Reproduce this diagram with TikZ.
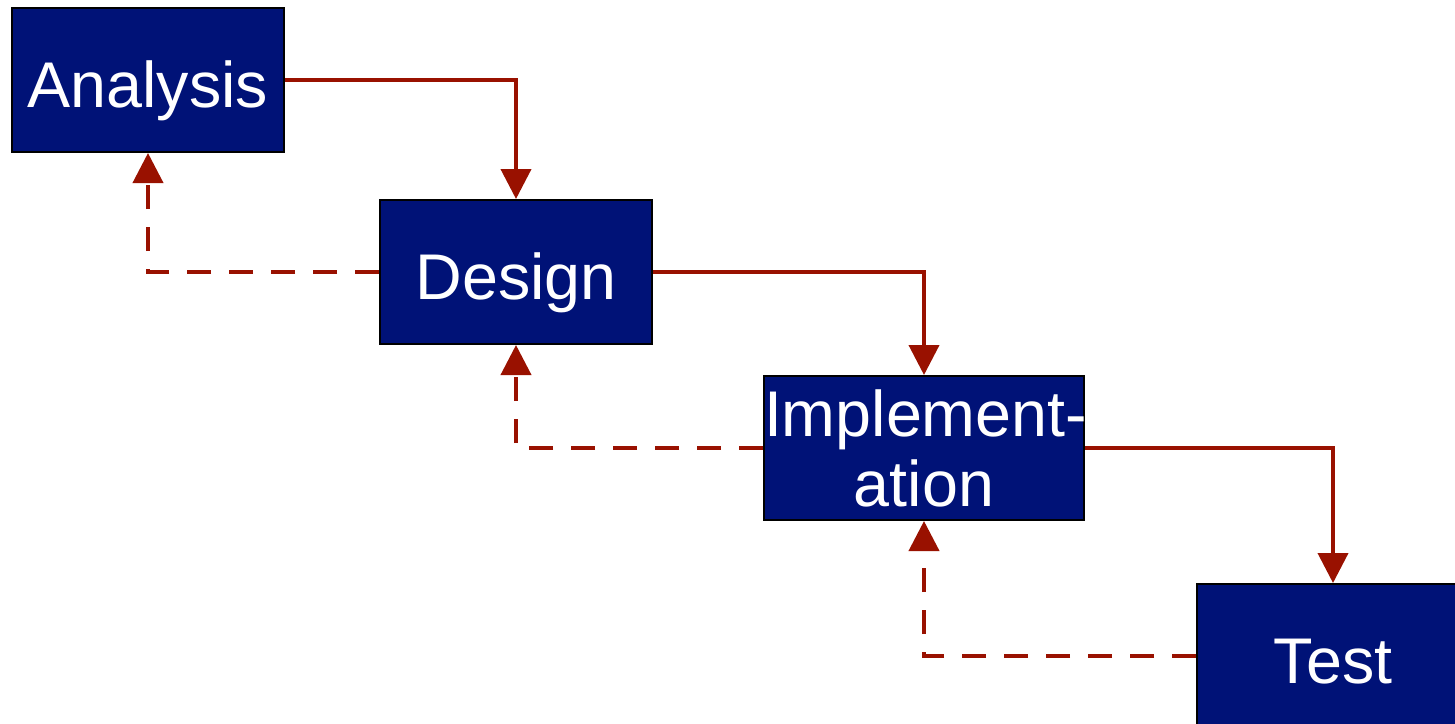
\documentclass[tikz,border=0pt]{standalone}
\usepackage{fontspec}
\setmainfont{Liberation Sans}
\usetikzlibrary{arrows.meta}
\definecolor{phasefill}{HTML}{001277}
\definecolor{flowred}{HTML}{991100}
\begin{document}
\begin{tikzpicture}[x=0.5pt,y=-0.5pt,
  phase/.style={draw=black, line width=1pt, fill=phasefill, text=white,
    minimum width=136pt, minimum height=72pt, inner sep=0pt,
    font=\fontsize{32.3}{35}\selectfont, align=center},
  oneline/.style={text height=27pt, text depth=0pt},
  forward/.style={draw=flowred, line width=2pt,
    -{Triangle[length=15pt,width=15pt]}},
  backward/.style={forward, dash pattern=on 12pt off 9pt}]
\useasboundingbox (0,0) rectangle (1455,723);
\node[phase, oneline] (ana) at (148,80) {Analysis};
\node[phase, oneline] (des) at (516,272) {Design};
\node[phase, text width=160pt] (imp) at (924,448) {\raisebox{-1pt}{Implement-}\\\raisebox{-1pt}{ation}};
\node[phase, oneline] (tst) at (1333,656) {Test};
% forward flow
\draw[forward] (ana.east) -| (des.north);
\draw[forward] (des.east) -| (imp.north);
\draw[forward] (imp.east) -| (tst.north);
% feedback loops
\draw[backward] (des.west) -| (ana.south);
\draw[backward] (imp.west) -| (des.south);
\draw[backward] (tst.west) -| (imp.south);
\end{tikzpicture}
\end{document}
